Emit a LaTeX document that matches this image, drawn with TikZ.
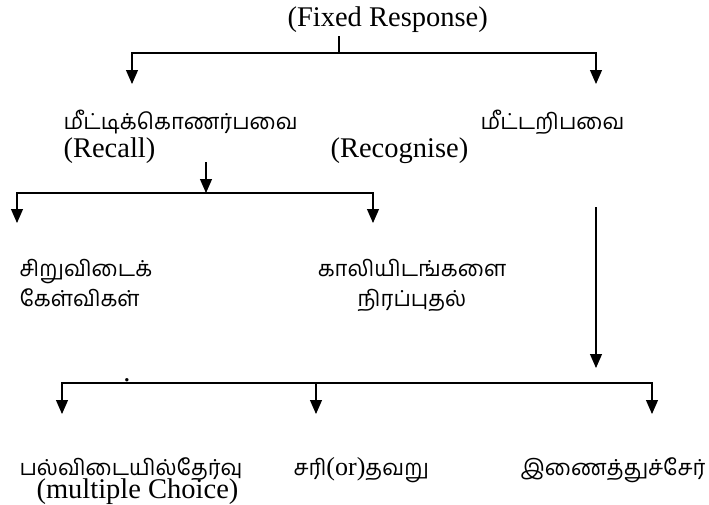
\documentclass[tikz,border=0pt]{standalone}
\usepackage{fontspec}
\setmainfont{Liberation Serif}
\newfontfamily\tamil[Script=Tamil]{Hind Madurai}
\usetikzlibrary{arrows.meta}
\begin{document}
\begin{tikzpicture}[x=1pt,y=-1pt,line width=1.1pt,
		arr/.style={-{Triangle[length=14pt,width=12pt]}},
		lat/.style={font=\fontsize{28.5}{32}\selectfont,inner sep=0pt},
		tam/.style={font=\fontsize{22}{30}\selectfont\tamil,inner sep=0pt}]
	\useasboundingbox (0,0) rectangle (709,504);
	\path
		  (287, 26) node[lat,anchor=base west] (fixed)   {(Fixed Response)}
		  ( 63,129) node[tam,anchor=base west] (recall)  {மீட்டிக்கொணர்பவை}
		  ( 63,157) node[lat,anchor=base west] (recallen){(Recall)}
		  (480,129) node[tam,anchor=base west] (recog)   {மீட்டறிபவை}
		  (330,157) node[lat,anchor=base west] (recogen) {(Recognise)}
		  ( 19,276) node[tam,anchor=base west] (short1)  {சிறுவிடைக்}
		  ( 19,306) node[tam,anchor=base west] (short2)  {கேள்விகள்}
		  (412,276) node[tam,anchor=base]      (fill1)   {காலியிடங்களை}
		  (412,306) node[tam,anchor=base]      (fill2)   {நிரப்புதல்}
		  ( 19,475) node[tam,anchor=base west] (mcq)     {பல்விடையில்தேர்வு}
		  ( 36,498) node[lat,anchor=base west] (mcqen)   {(multiple Choice)}
		  (293,475) node[tam,anchor=base west] (tf)      {சரி{\fontspec{Liberation Serif}\fontsize{26}{30}\selectfont(or)}தவறு}
		  (706,475) node[tam,anchor=base east] (match)   {இணைத்துச்சேர்}
		  (127,381.5) node[lat,anchor=base]    (dot)     {.}
	;
	\coordinate (stem)     at (339, 36);
	\coordinate (top)      at (339, 53);
	\coordinate (recallin) at (132, 84);
	\coordinate (recogin)  at (596, 84);
	\coordinate (split0)   at (206,162);
	\coordinate (split)    at (206,193);
	\coordinate (shortin)  at ( 17,223);
	\coordinate (fillin)   at (373,223);
	\coordinate (recogout) at (596,207);
	\coordinate (lowin)    at (596,368);
	\coordinate (low)      at (316,383);
	\coordinate (mcqin)    at ( 62,414);
	\coordinate (tfin)     at (316,414);
	\coordinate (matchin)  at (652,414);
	\draw          (stem)     -- (top);
	\draw[arr]     (top)      -| (recallin);
	\draw[arr]     (top)      -| (recogin);
	\draw[arr]     (split0)   -- (split);
	\draw[arr]     (split)    -| (shortin);
	\draw[arr]     (split)    -| (fillin);
	\draw[arr]     (recogout) -- (lowin);
	\draw[arr]     (low)      -| (mcqin);
	\draw[arr]     (low)      -- (tfin);
	\draw[arr]     (low)      -| (matchin);
\end{tikzpicture}
\end{document}
